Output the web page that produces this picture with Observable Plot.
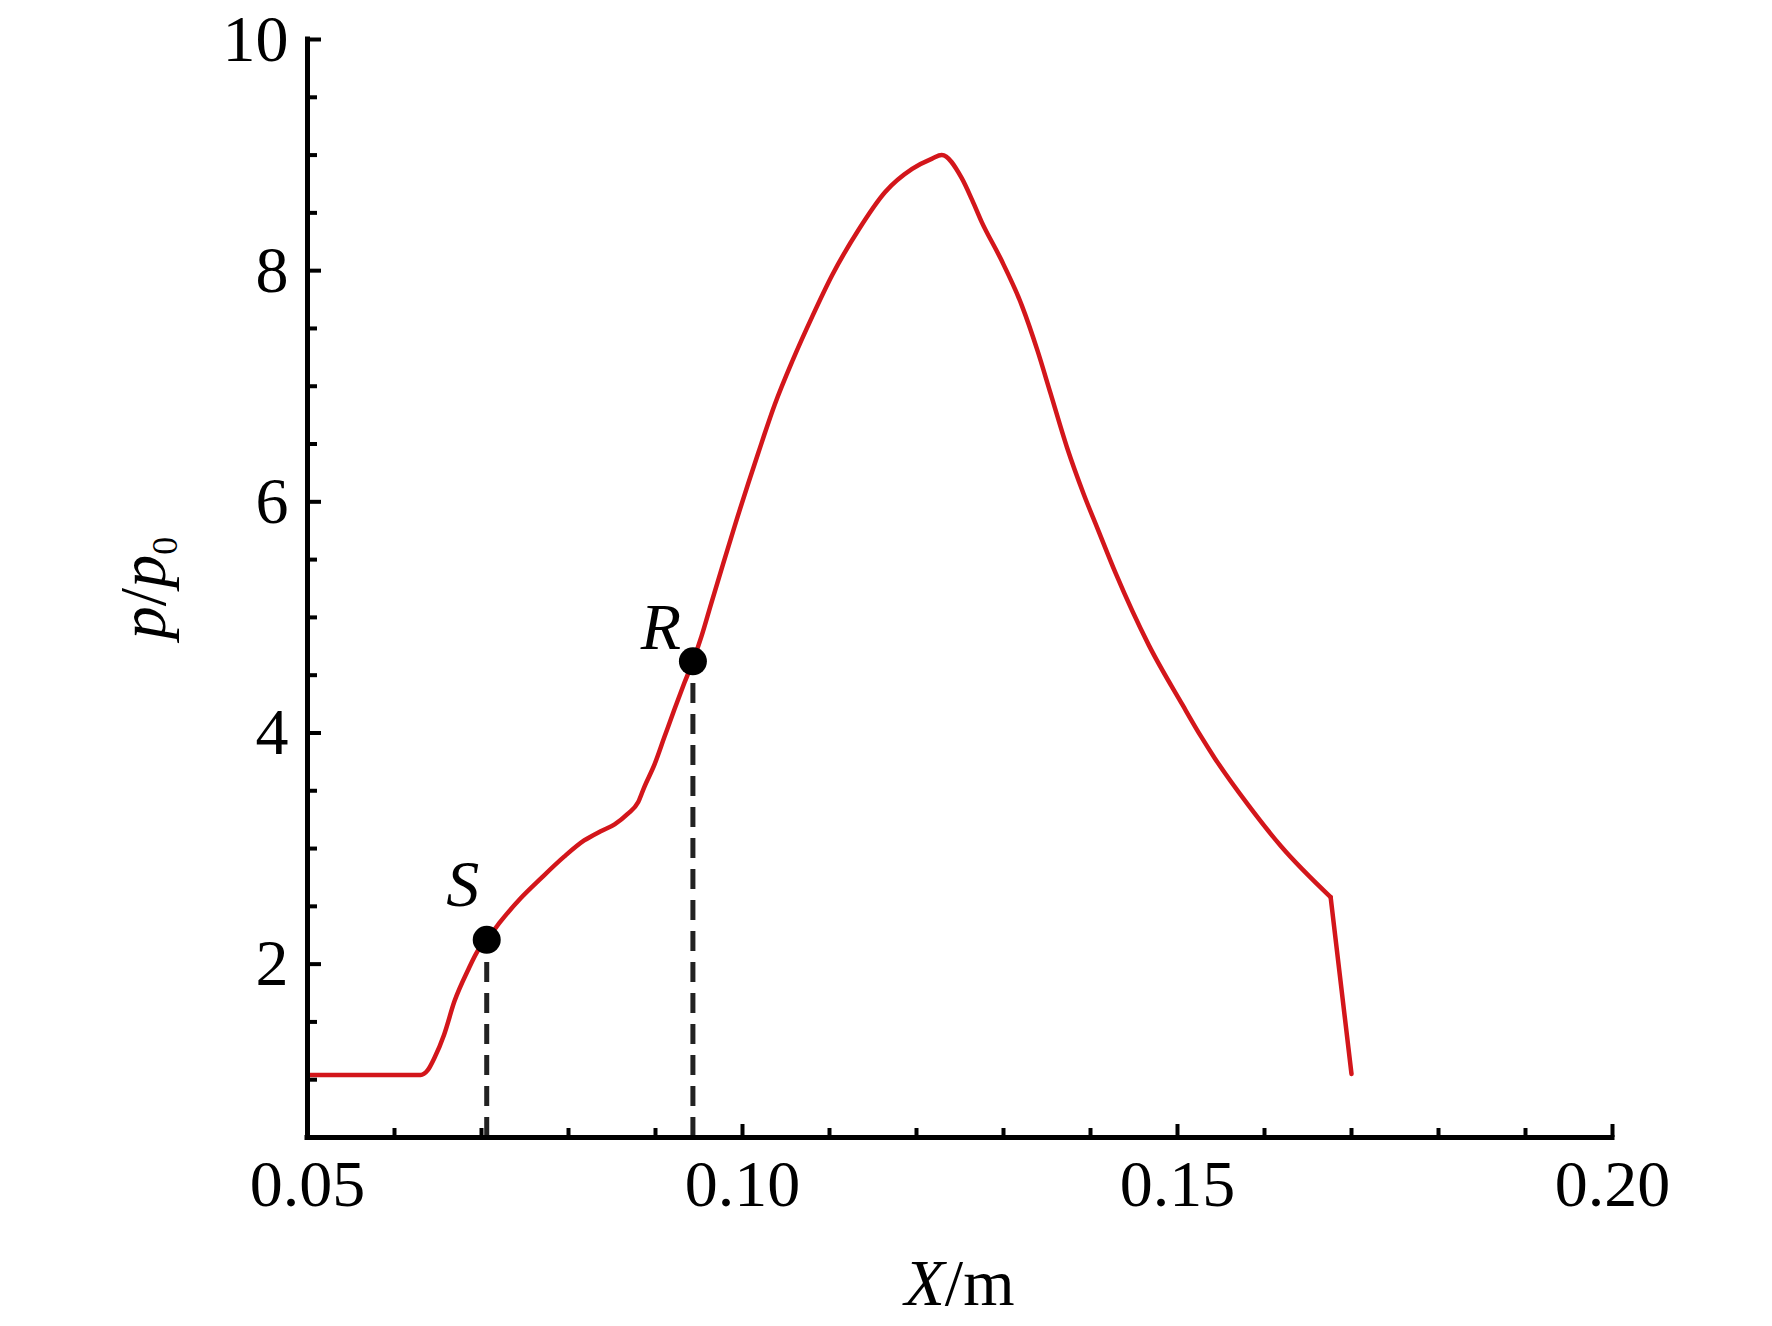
<!DOCTYPE html>
<html>
<head>
<meta charset="utf-8">
<script src="https://cdn.jsdelivr.net/npm/d3@7"></script>
<script src="https://cdn.jsdelivr.net/npm/@observablehq/plot@0.6"></script>
<style>
  html, body { margin: 0; padding: 0; background: #fff; }
  #chart { width: 1772px; height: 1326px; }
</style>
</head>
<body>
<div id="chart"></div>
<script>
// ---- data ----
const xValues = [
  0.0500, 0.0630, 0.0638, 0.0646, 0.0657, 0.0669, 0.0684, 0.0697, 0.0706, 0.0722,
  0.0745, 0.0768, 0.0795, 0.0818, 0.0837, 0.0853, 0.0868, 0.0880, 0.0887, 0.0899,
  0.0910, 0.0922, 0.0933, 0.0943, 0.0953, 0.0964, 0.0976, 0.0991, 0.1018, 0.1037,
  0.1058, 0.1080, 0.1103, 0.1134, 0.1164, 0.1195, 0.1218, 0.1229, 0.1252, 0.1264,
  0.1275, 0.1297, 0.1321, 0.1339, 0.1354, 0.1373, 0.1392, 0.1408, 0.1429, 0.1467,
  0.1506, 0.1527, 0.1543, 0.1581, 0.1619, 0.1676, 0.1700
];
const pressureRatio = [
  1.04, 1.04, 1.08, 1.19, 1.39, 1.68, 1.94, 2.13, 2.21, 2.37,
  2.57, 2.74, 2.93, 3.07, 3.15, 3.21, 3.30, 3.40, 3.53, 3.73,
  3.96, 4.21, 4.43, 4.62, 4.84, 5.12, 5.42, 5.79, 6.42, 6.84,
  7.23, 7.60, 7.96, 8.36, 8.68, 8.88, 8.97, 9.00, 8.80, 8.61,
  8.42, 8.10, 7.70, 7.31, 6.94, 6.47, 6.07, 5.77, 5.38, 4.76,
  4.24, 3.97, 3.78, 3.38, 3.02, 2.58, 1.05
];
const markerNames = ["S", "R"];
const markerX = [0.0706, 0.0943];
const markerY = [2.21, 4.62];

const xDomain = [0.05, 0.20];
const yDomain = [0.5, 10];
const xMajorTicks = [0.05, 0.10, 0.15, 0.20];
const xMinorTicks = [0.06, 0.07, 0.08, 0.09, 0.11, 0.12, 0.13, 0.14, 0.16, 0.17, 0.18, 0.19];
const yMajorTicks = [2, 4, 6, 8, 10];
const yMinorTicks = [1, 1.5, 2.5, 3, 3.5, 4.5, 5, 5.5, 6.5, 7, 7.5, 8.5, 9, 9.5];

// ---- build ----
const curve = xValues.map((x, i) => ({x, y: pressureRatio[i]}));
const mainPart = curve.slice(0, curve.length - 1);   // smooth part up to the kink
const tailPart = curve.slice(curve.length - 2);      // straight drop after the kink
const markers = markerNames.map((name, i) => ({name, x: markerX[i], y: markerY[i]}));

const font = "'Liberation Serif', 'Times New Roman', Times, serif";
const W = 1772, H = 1326;
const mL = 307, mR = 160, mT = 39, mB = 189;
const [X0, X1] = xDomain;
const [Y0, Y1] = yDomain;
const red = "#d3161b";

const plot = Plot.plot({
  width: W,
  height: H,
  marginLeft: mL,
  marginRight: mR,
  marginTop: mT,
  marginBottom: mB,
  x: {domain: xDomain},
  y: {domain: yDomain},
  style: {fontFamily: font, background: "white", color: "black", overflow: "visible"},
  marks: [
    Plot.line(mainPart, {x: "x", y: "y", stroke: red, strokeWidth: 4.5, curve: "monotone-x"}),
    Plot.line(tailPart, {x: "x", y: "y", stroke: red, strokeWidth: 4.5, curve: "linear"}),
    Plot.ruleX(markers, {x: "x", y1: Y0, y2: "y", stroke: "#222", strokeWidth: 5, strokeDasharray: "20,11"}),
    Plot.dot(markers, {x: "x", y: "y", r: 14, fill: "black"}),
    Plot.text(markers.filter(d => d.name === "S"), {x: "x", y: "y", text: "name", fontStyle: "italic", fontSize: 66, dx: -24, dy: -55}),
    Plot.text(markers.filter(d => d.name === "R"), {x: "x", y: "y", text: "name", fontStyle: "italic", fontSize: 66, dx: -32, dy: -33}),
    // axis lines
    Plot.ruleX([X0], {x: d => d, y1: Y0, y2: Y1, stroke: "black", strokeWidth: 5, strokeLinecap: "square"}),
    Plot.ruleY([Y0], {y: d => d, x1: X0, x2: X1, stroke: "black", strokeWidth: 5, strokeLinecap: "square"}),
    // inward ticks
    Plot.ruleX(xMajorTicks, {x: d => d, y1: Y0, y2: Y0, insetTop: -13, stroke: "black", strokeWidth: 4}),
    Plot.ruleX(xMinorTicks, {x: d => d, y1: Y0, y2: Y0, insetTop: -9, stroke: "black", strokeWidth: 4}),
    Plot.ruleY(yMajorTicks, {y: d => d, x1: X0, x2: X0, insetRight: -14, stroke: "black", strokeWidth: 4}),
    Plot.ruleY(yMinorTicks, {y: d => d, x1: X0, x2: X0, insetRight: -10, stroke: "black", strokeWidth: 4}),
    // tick labels
    Plot.axisX({ticks: xMajorTicks, tickSize: 0, tickPadding: 22, tickFormat: d3.format(".2f"), fontSize: 66, label: null}),
    Plot.axisY({ticks: yMajorTicks, tickSize: 0, tickPadding: 19, tickFormat: d3.format("d"), fontSize: 66, label: null})
  ]
});

const svg = d3.select(plot);
// y axis title: p/p0
const yl = svg.append("text")
  .attr("transform", `translate(165, ${(mT + H - mB) / 2}) rotate(-90)`)
  .attr("text-anchor", "middle")
  .attr("font-family", font)
  .attr("font-size", 66)
  .attr("fill", "black");
yl.append("tspan").attr("font-style", "italic").text("p");
yl.append("tspan").text("/");
yl.append("tspan").attr("font-style", "italic").text("p");
yl.append("tspan").attr("font-size", 36).attr("dy", 12).text("0");

// x axis title: X/m
const xl = svg.append("text")
  .attr("x", (mL + W - mR) / 2)
  .attr("y", 1305)
  .attr("text-anchor", "middle")
  .attr("font-family", font)
  .attr("font-size", 66)
  .attr("fill", "black");
xl.append("tspan").attr("font-style", "italic").text("X");
xl.append("tspan").text("/m");

document.getElementById("chart").appendChild(plot);
</script>
</body>
</html>
